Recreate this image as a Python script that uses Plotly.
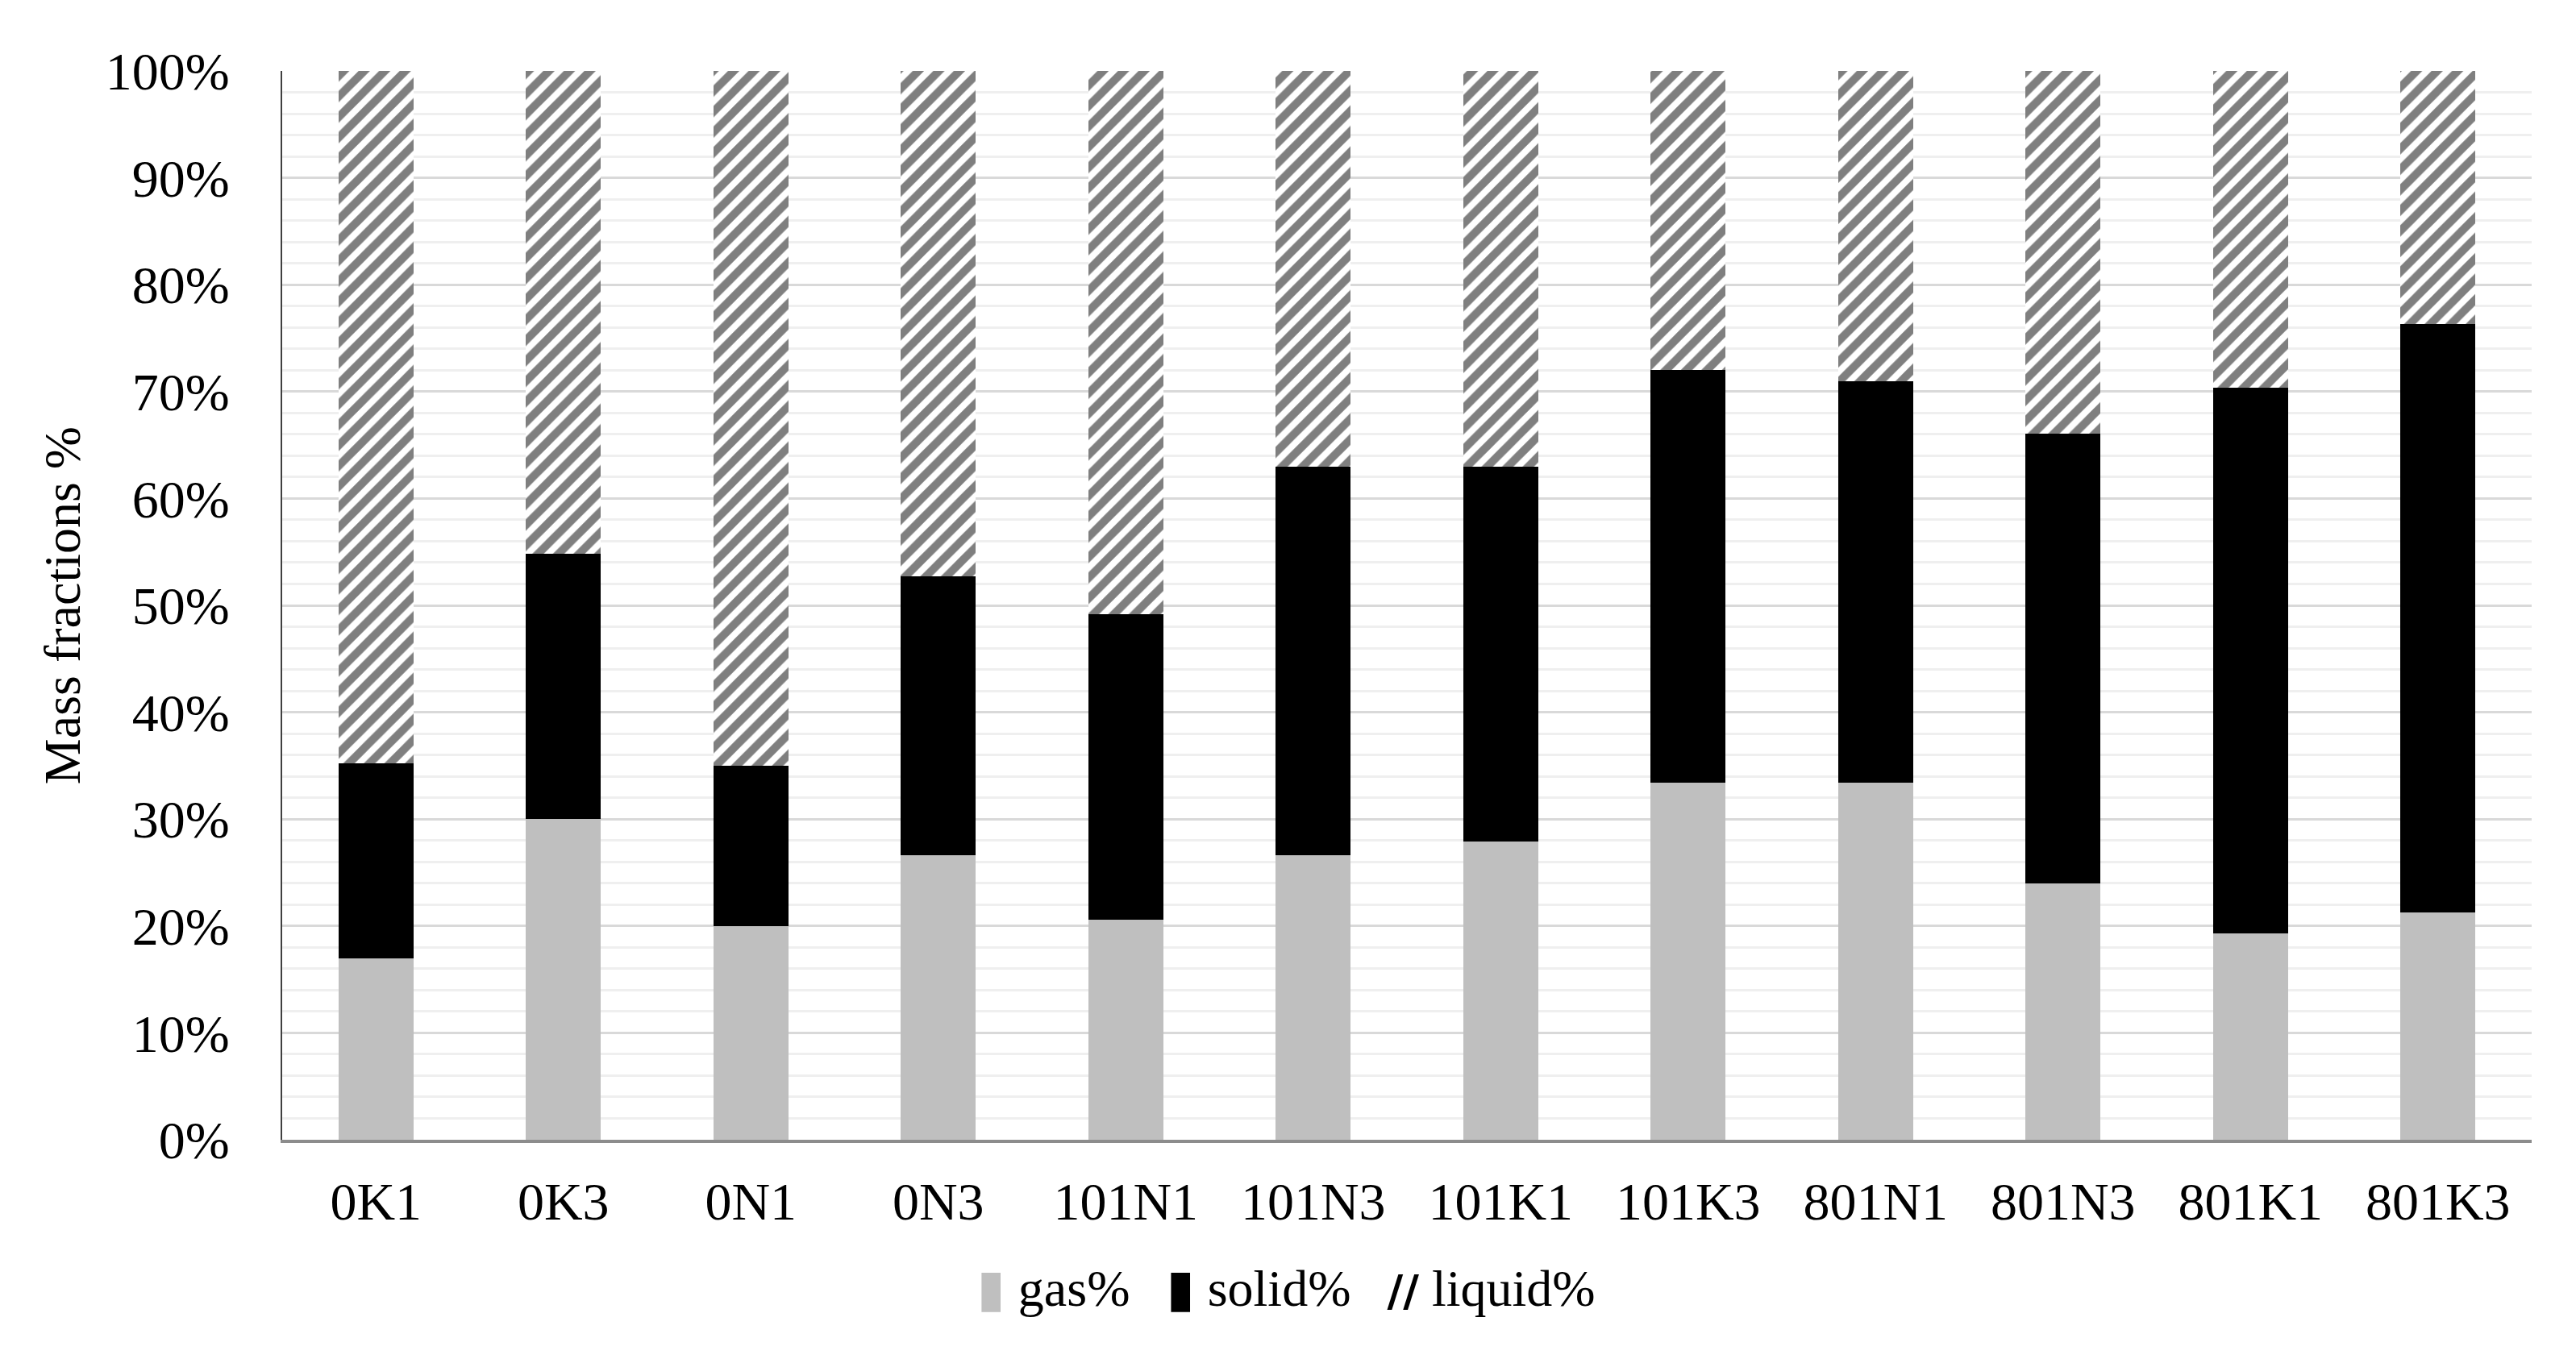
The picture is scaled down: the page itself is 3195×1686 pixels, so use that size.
import plotly.graph_objects as go

samples = ['0K1', '0K3', '0N1', '0N3', '101N1', '101N3', '101K1', '101K3', '801N1', '801N3', '801K1', '801K3']
gas = [17.0, 30.0, 20.0, 26.6, 20.6, 26.6, 27.9, 33.4, 33.4, 24.0, 19.3, 21.3]
solid = [18.2, 24.8, 15.0, 26.1, 28.6, 36.4, 35.1, 38.6, 37.6, 42.1, 51.1, 55.0]
liquid = [64.8, 45.2, 65.0, 47.3, 50.8, 37.0, 37.0, 28.0, 29.0, 33.9, 29.6, 23.7]

font = 'Liberation Serif'

fig = go.Figure()
fig.add_trace(go.Bar(x=samples, y=gas, name='gas%', showlegend=False,
                     marker=dict(color='#bfbfbf', line=dict(width=0))))
fig.add_trace(go.Bar(x=samples, y=solid, name='solid%', showlegend=False,
                     marker=dict(color='#000000', line=dict(width=0))))
fig.add_trace(go.Bar(x=samples, y=liquid, name='liquid%', showlegend=False,
                     marker=dict(color='white', line=dict(width=0),
                                 pattern=dict(shape='/', fgcolor='black', bgcolor='white', size=18, solidity=0.55))))

# legend: plotly's bar symbols are tiny, so the symbol goes into the label text
sym = '<span style="font-family:DejaVu Sans;color:%s">%s</span> '
legend_names = [sym % ('#bfbfbf', '▮') + 'gas%',
                sym % ('#000000', '▮') + 'solid%',
                '<span style="font-family:DejaVu Sans;font-size:54px"><b>//</b></span> liquid%']
for nm in legend_names:
    fig.add_trace(go.Scatter(x=[None], y=[None], mode='markers', name=nm,
                             marker=dict(color='rgba(0,0,0,0)', size=2)))

fig.update_layout(
    barmode='stack',
    bargap=0.6,
    width=3195, height=1686,
    margin=dict(l=342, r=63, t=80, b=280),
    plot_bgcolor='white', paper_bgcolor='white',
    font=dict(family=font, size=66, color='black'),
    legend=dict(orientation='h', x=0.44, xanchor='center', y=-0.1, yanchor='top',
                font=dict(size=64), itemwidth=30, traceorder='normal'),
)
fig.update_yaxes(range=[0, 100], dtick=10, ticksuffix='%', showgrid=True, gridcolor='#d9d9d9', gridwidth=3,
                 minor=dict(dtick=2, showgrid=True, gridcolor='#efefef', gridwidth=3),
                 showline=True, linecolor='#404040', linewidth=2, zeroline=False,
                 ticks='', ticklabelstandoff=50,
                 title=dict(text='Mass fractions %', standoff=10, font=dict(size=64)))
fig.update_xaxes(showline=True, linecolor='#8c8c8c', linewidth=4, ticks='', ticklabelstandoff=16,
                 showgrid=False)

fig.write_html("out.html")
